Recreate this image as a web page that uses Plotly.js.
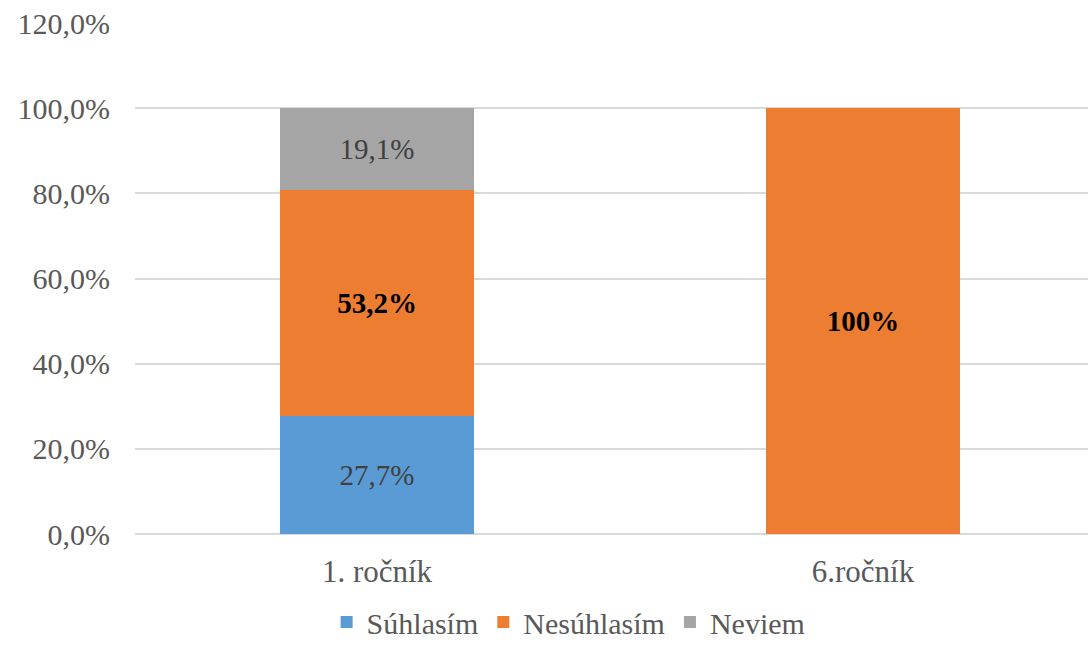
<!DOCTYPE html>
<html>
<head>
<meta charset="utf-8">
<script src="https://cdn.plot.ly/plotly-3.0.1.min.js"></script>
<style>html,body{margin:0;padding:0;background:#fff;}#chart{width:1088px;height:648px;}</style>
</head>
<body>
<div id="chart"></div>
<script>
const categories = ['1. ročník', '6.ročník'];
const seriesNames = ['Súhlasím', 'Nesúhlasím', 'Neviem'];
const suhlasim = [27.7, 0];
const nesuhlasim = [53.2, 100];
const neviem = [19.1, 0];
const colors = ['#5b9bd5', '#ed7d31', '#a5a5a5'];
const yTicks = [0, 20, 40, 60, 80, 100, 120];

function fmt(v) {
  if (v === 0) return '';
  if (v === 100) return '100%';
  return v.toFixed(1).replace('.', ',') + '%';
}
const FONT = '"Liberation Serif", "DejaVu Serif", serif';
const series = [suhlasim, nesuhlasim, neviem];
const bold = [false, true, false];
const traces = series.map((vals, i) => ({
  type: 'bar',
  name: seriesNames[i],
  x: categories,
  y: vals,
  width: 0.4,
  marker: {color: colors[i]},
  text: vals.map(v => bold[i] && v ? '<b>' + fmt(v) + '</b>' : fmt(v)),
  textposition: 'inside',
  insidetextanchor: 'middle',
  textangle: 0,
  textfont: {family: FONT, size: 29, color: bold[i] ? '#000000' : '#404040'},
  hoverinfo: 'skip'
}));

const layout = {
  width: 1088, height: 648,
  margin: {l: 135, r: 0, t: 23, b: 114},
  barmode: 'stack',
  separators: ', ',
  paper_bgcolor: '#ffffff',
  plot_bgcolor: '#ffffff',
  font: {family: FONT, size: 29, color: '#595959'},
  xaxis: {
    type: 'category',
    range: [-0.498, 1.463],
    showgrid: false, zeroline: false, showline: false,
    ticks: '', ticklen: 0,
    ticklabelstandoff: 16,
    tickfont: {family: FONT, size: 31, color: '#595959'}
  },
  yaxis: {
    range: [0, 120],
    tickvals: yTicks,
    ticktext: yTicks.map(v => v.toFixed(1).replace('.', ',') + '%'),
    showgrid: true, gridcolor: '#d9d9d9', gridwidth: 2,
    zeroline: true, zerolinecolor: '#d9d9d9', zerolinewidth: 2,
    showline: false, ticks: '',
    ticklabelstandoff: 24,
    tickfont: {family: FONT, size: 30, color: '#595959'}
  },
  showlegend: true,
  legend: {
    orientation: 'h',
    x: 0.455, xref: 'paper', xanchor: 'center',
    y: 0, yref: 'container', yanchor: 'bottom',
    font: {family: FONT, size: 30, color: '#595959'},
    traceorder: 'normal',
    itemwidth: 30
  }
};

Plotly.newPlot('chart', traces, layout, {displayModeBar: false, staticPlot: true});
</script>
</body>
</html>
